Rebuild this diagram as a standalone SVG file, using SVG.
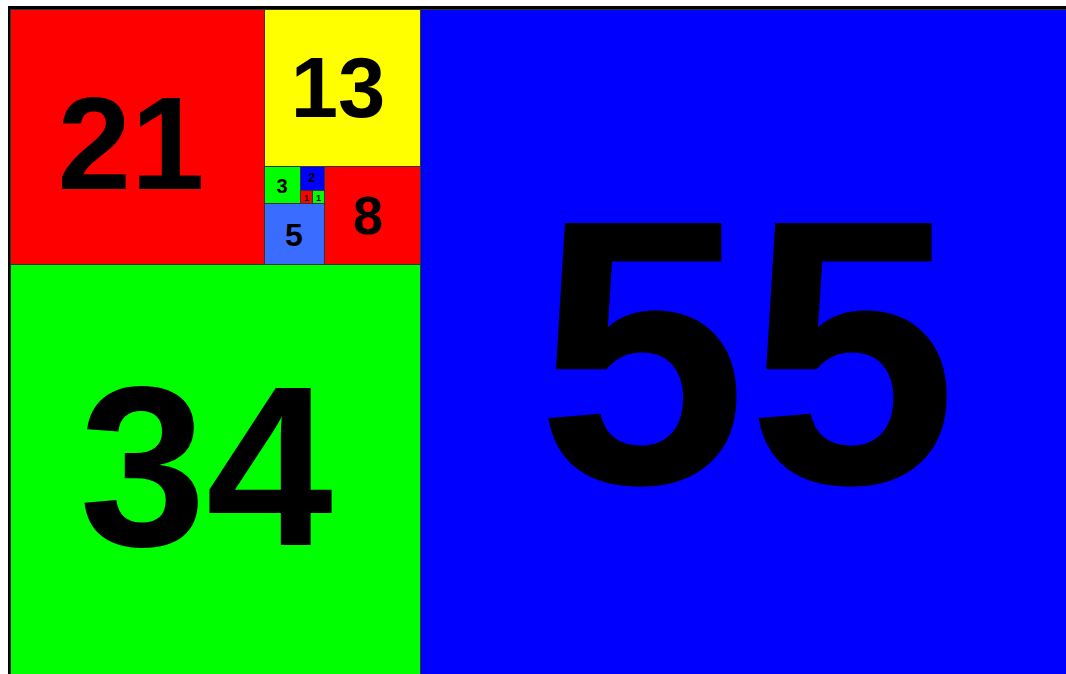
<svg xmlns="http://www.w3.org/2000/svg" width="1066" height="674" viewBox="0 0 1066 674">
  <style>
    .sq { stroke: #333; stroke-width: 1; }
    .num { font-family: "Liberation Sans", Arial, sans-serif; font-weight: bold; fill: #000; text-anchor: middle; }
  </style>
  <rect x="0" y="0" width="1066" height="674" fill="#fff"/>
  <rect x="8" y="6" width="1100" height="700" fill="#000"/>
  <g id="sq55"><rect class="sq" x="420.5" y="9.5" width="700" height="700" fill="#0000ff"/><text class="num" x="747" y="483" font-size="378">55</text></g>
  <g id="sq34"><rect class="sq" x="10.5" y="264.5" width="410" height="500" fill="#00ff00"/><text class="num" x="206" y="545" font-size="228">34</text></g>
  <g id="sq21"><rect class="sq" x="10.5" y="9.5" width="254" height="255" fill="#ff0000"/><text class="num" x="131" y="189" font-size="132">21</text></g>
  <g id="sq13"><rect class="sq" x="264.5" y="9.5" width="156" height="157" fill="#ffff00"/><text class="num" x="338" y="117" font-size="85">13</text></g>
  <g id="sq8"><rect class="sq" x="324.5" y="166.5" width="96" height="98" fill="#ff0000"/><text class="num" x="368" y="234" font-size="54">8</text></g>
  <g id="sq5"><rect class="sq" x="264.5" y="203.5" width="60" height="61" fill="#3a6cff"/><text class="num" x="294" y="246" font-size="32">5</text></g>
  <g id="sq3"><rect class="sq" x="264.5" y="166.5" width="36" height="37" fill="#00ff00"/><text class="num" x="282" y="192.5" font-size="20">3</text></g>
  <g id="sq2"><rect class="sq" x="300.5" y="166.5" width="24" height="24" fill="#0000ff"/><text class="num" x="311.7" y="182.3" font-size="12.5">2</text></g>
  <g id="sq1a"><rect class="sq" x="300.5" y="190.5" width="12" height="13" fill="#ff0000"/><text class="num" x="306.5" y="201" font-size="9">1</text></g>
  <g id="sq1b"><rect class="sq" x="312.5" y="190.5" width="12" height="13" fill="#00ff00"/><text class="num" x="318.5" y="201" font-size="9">1</text></g>
  <g id="connectors"/>
</svg>
